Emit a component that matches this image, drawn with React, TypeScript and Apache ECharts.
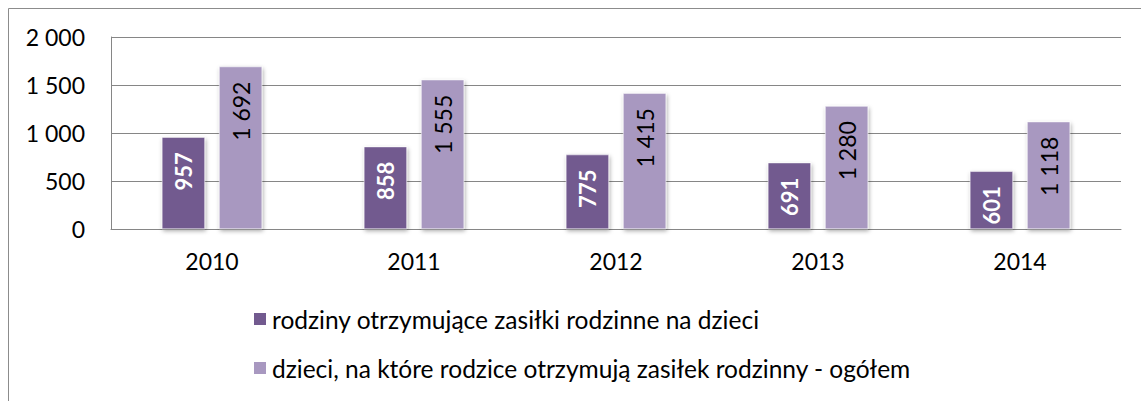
import React, { useEffect, useRef } from "react";
import * as echarts from "echarts";

const categories = ["2010", "2011", "2012", "2013", "2014"];
const families = [957, 858, 775, 691, 601];
const children = [1692, 1555, 1415, 1280, 1118];
const seriesNames = [
  "rodziny otrzymujące zasiłki rodzinne na dzieci",
  "dzieci, na które rodzice otrzymują zasiłek rodzinny - ogółem",
];
const yTicks = { min: 0, max: 2000, interval: 500 };

const fmt = (v: number) => {
  const s = String(Math.round(v));
  return s.replace(/\B(?=(\d{3})+(?!\d))/g, " ");
};

const FONT = "Lato, 'Open Sans', sans-serif";

export default function App() {
  const ref = useRef<HTMLDivElement>(null);
  useEffect(() => {
    document.body.style.margin = "0";
    document.body.style.overflow = "hidden";
    if (!ref.current) return;
    const chart = echarts.init(ref.current, undefined, { renderer: "svg" });
    const shadow = {
      shadowBlur: 4,
      shadowColor: "rgba(0,0,0,0.35)",
      shadowOffsetX: 1,
      shadowOffsetY: 2,
    };
    chart.setOption({
      animation: false,
      backgroundColor: "#ffffff",
      textStyle: { fontFamily: FONT },
      graphic: [
        {
          type: "rect",
          shape: { x: 8.5, y: 8.5, width: 1200, height: 500 },
          style: { fill: "none", stroke: "#8c8c8c", lineWidth: 1 },
          silent: true,
        },
      ],
      grid: { left: 111, top: 37, width: 1010, height: 192, containLabel: false },
      legend: {
        orient: "vertical",
        left: 247,
        top: 300,
        itemWidth: 14,
        itemHeight: 14,
        itemGap: 21,
        icon: "rect",
        textStyle: { fontFamily: FONT, fontSize: 24.5, color: "#000", lineHeight: 28 },
        data: seriesNames,
      },
      xAxis: {
        type: "category",
        data: categories,
        axisLine: { show: true, lineStyle: { color: "#868686", width: 1 } },
        axisTick: { show: false },
        axisLabel: { fontFamily: FONT, fontSize: 23, color: "#000", margin: 20 },
      },
      yAxis: {
        type: "value",
        min: yTicks.min,
        max: yTicks.max,
        interval: yTicks.interval,
        axisLine: { show: true, lineStyle: { color: "#868686", width: 1 } },
        axisTick: { show: false },
        splitLine: { show: true, lineStyle: { color: "#868686", width: 1 } },
        axisLabel: {
          fontFamily: FONT,
          fontSize: 23,
          color: "#000",
          margin: 26,
          formatter: (v: number) => fmt(v),
        },
      },
      series: [
        {
          name: seriesNames[0],
          type: "bar",
          data: families,
          barWidth: 43,
          barGap: "33%",
          itemStyle: { color: "#725A8F", borderColor: "#ffffff", borderWidth: 0.5, ...shadow },
          label: {
            show: true,
            position: "insideTop",
            distance: 15,
            rotate: 90,
            align: "right",
            verticalAlign: "middle",
            fontFamily: FONT,
            fontSize: 22,
            fontWeight: "bold",
            color: "#ffffff",
            formatter: (p: any) => fmt(p.value),
          },
        },
        {
          name: seriesNames[1],
          type: "bar",
          data: children,
          barWidth: 43,
          barGap: "33%",
          itemStyle: { color: "#A898C0", borderColor: "#ffffff", borderWidth: 0.5, ...shadow },
          label: {
            show: true,
            position: "insideTop",
            distance: 15,
            rotate: 90,
            align: "right",
            verticalAlign: "middle",
            fontFamily: FONT,
            fontSize: 23,
            color: "#000000",
            formatter: (p: any) => fmt(p.value),
          },
        },
      ],
    });
    return () => chart.dispose();
  }, []);
  return <div ref={ref} style={{ width: 1141, height: 401, overflow: "hidden" }} />;
}
